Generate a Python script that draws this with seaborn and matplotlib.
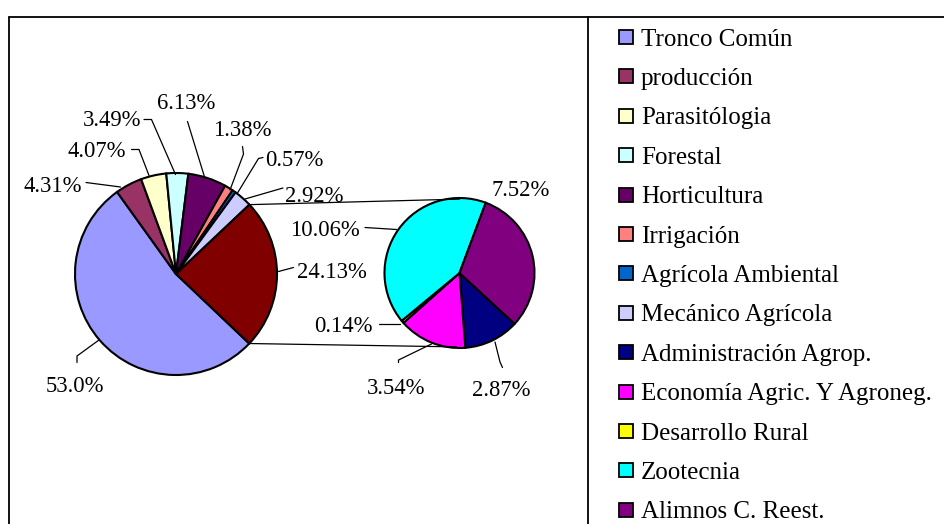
import matplotlib
matplotlib.use("Agg")
import matplotlib.pyplot as plt
from matplotlib.patches import Rectangle
import seaborn as sns
import numpy as np

# ---------------- data ----------------
main_labels = ["Tronco Común", "producción", "Parasitólogia", "Forestal", "Horticultura",
               "Irrigación", "Agrícola Ambiental", "Mecánico Agrícola"]
main_values = [53.0, 4.31, 4.07, 3.49, 6.13, 1.38, 0.57, 2.92]
main_decimals = [1, 2, 2, 2, 2, 2, 2, 2]
other_value = 24.13

sub_labels = ["Administración Agrop.", "Economía Agric. Y Agroneg.", "Desarrollo Rural",
              "Zootecnia", "Alimnos C. Reest."]
sub_values = [2.87, 3.54, 0.14, 10.06, 7.52]

main_colors = ["#9999FF", "#993366", "#FFFFCC", "#CCFFFF", "#660066",
               "#FF8080", "#0066CC", "#CCCCFF"]
other_color = "#800000"
sub_colors = ["#000080", "#FF00FF", "#FFFF00", "#00FFFF", "#800080"]

# ---------------- style ----------------
sns.set_theme(style="white")
plt.rcParams["font.family"] = ["Liberation Serif", "DejaVu Serif"]

W, H = 945, 524
fig = plt.figure(figsize=(W / 100, H / 100), dpi=100)
ax = fig.add_axes([0, 0, 1, 1])


def Y(y):
    return H - y


FS = 16.3
EDGE = dict(edgecolor="black", linewidth=1.5)

main_c = (176, Y(274))
main_r = 101
sub_c = (459.5, Y(273))
sub_r = 75

wedges_main, _ = ax.pie(main_values + [other_value], colors=main_colors + [other_color],
                        startangle=316.5, counterclock=False, center=main_c,
                        radius=main_r, wedgeprops=EDGE, frame=True)
wedges_sub, _ = ax.pie(sub_values, colors=sub_colors, startangle=-42.7,
                       counterclock=False, center=sub_c, radius=sub_r,
                       wedgeprops=EDGE, frame=True)

# connector lines from the "other" slice to the secondary pie
ow = wedges_main[-1]
t1, t2 = np.deg2rad(ow.theta1), np.deg2rad(ow.theta2)
p_top = (main_c[0] + main_r * np.cos(t2), main_c[1] + main_r * np.sin(t2))
p_bot = (main_c[0] + main_r * np.cos(t1), main_c[1] + main_r * np.sin(t1))
ax.plot([p_top[0], sub_c[0]], [p_top[1], sub_c[1] + sub_r * 0.985], color="black", lw=0.9)
ax.plot([p_bot[0], sub_c[0] - 3], [p_bot[1], sub_c[1] - sub_r * 0.985], color="black", lw=0.9)

# ---------------- labels (layout positions in pixels: x, baseline) ----------------
main_text_pos = [(75, 392), (52.5, 191.5), (97, 157), (112, 126.5), (186, 109),
                 (242, 136), (294, 166.5), (314.5, 201.5)]
main_leaders = [
    [(99, 340), (77, 356), (77, 362.5)],
    [(86, 182.5), (120.5, 187)],
    [(131.5, 149.5), (139, 149.5), (149, 175.5)],
    [(144, 119.5), (151.5, 119.5), (175.5, 174.5)],
    [(187.5, 121.5), (205, 178.5)],
    [(242.5, 146.5), (243.5, 154), (230, 190)],
    [(263, 157.5), (258.5, 158.5), (237.5, 193)],
    [(283, 188), (245, 199)],
]
other_text_pos = (332, 278)
other_leader = [(278.5, 271.5), (293.5, 267.5)]

sub_text_pos = [(501, 396.5), (396, 394), (343.5, 331.5), (325, 236), (521, 196.5)]
sub_leaders = [
    [(502.5, 367.5), (500, 362), (495, 342)],
    [(398.5, 362.5), (398.5, 360), (431.5, 344)],
    [(378.5, 323.5), (400, 323.5)],
    [(365, 227.5), (396.5, 229.5)],
    [],
]

for v, d, (tx, ty), lead in zip(main_values, main_decimals, main_text_pos, main_leaders):
    ax.text(tx, Y(ty), f"{v:.{d}f}%", ha="center", va="baseline", fontsize=FS, color="black")
    if lead:
        xs, ys = zip(*lead)
        ax.plot(xs, [Y(y) for y in ys], color="black", lw=0.9)

ax.text(other_text_pos[0], Y(other_text_pos[1]), f"{other_value:.2f}%", ha="center",
        va="baseline", fontsize=FS, color="black")
xs, ys = zip(*other_leader)
ax.plot(xs, [Y(y) for y in ys], color="black", lw=0.9)

for v, (tx, ty), lead in zip(sub_values, sub_text_pos, sub_leaders):
    ax.text(tx, Y(ty), f"{v:.2f}%", ha="center", va="baseline", fontsize=FS, color="black")
    if lead:
        xs, ys = zip(*lead)
        ax.plot(xs, [Y(y) for y in ys], color="black", lw=0.9)

# ---------------- frames ----------------
ax.plot([9, 9], [Y(16.5), 0], color="black", lw=1.3)
ax.plot([9, W], [Y(16.5), Y(16.5)], color="black", lw=1.3)
ax.plot([588, 588], [Y(16.5), 0], color="black", lw=1.3)

# ---------------- legend ----------------
leg_labels = main_labels + sub_labels
leg_colors = main_colors + sub_colors
for i, (lab, col) in enumerate(zip(leg_labels, leg_colors)):
    yc = 37 + 39.4 * i
    ax.add_patch(Rectangle((618.5, Y(yc + 7)), 14, 14, facecolor=col,
                           edgecolor="black", linewidth=1.3))
    ax.text(641, Y(yc + 8.5), lab, ha="left", va="baseline", fontsize=18, color="black")

ax.set_xlim(0, W)
ax.set_ylim(0, H)
ax.set_aspect("auto")
ax.axis("off")

fig.savefig("out.png", dpi=100)
